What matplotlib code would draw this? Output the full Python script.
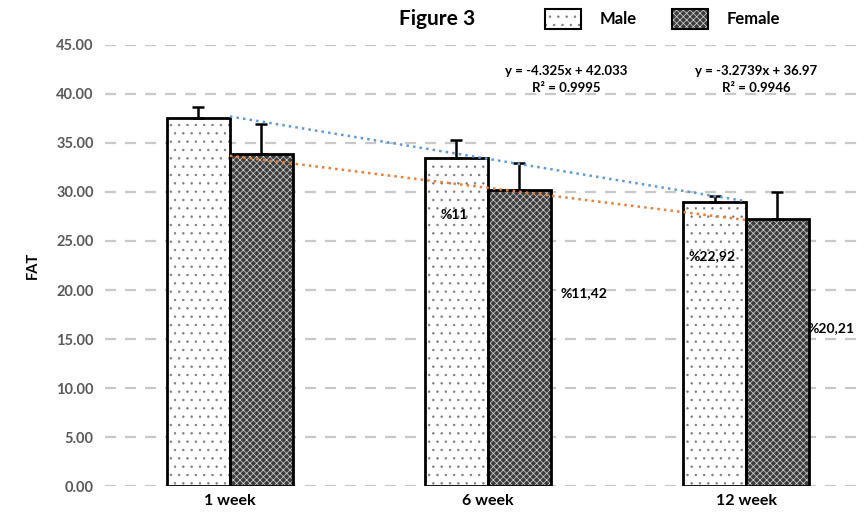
import numpy as np
import matplotlib
matplotlib.use("Agg")
import matplotlib.pyplot as plt
from matplotlib.patches import Rectangle

plt.rcParams['font.family'] = ['Lato', 'DejaVu Sans']
plt.rcParams['hatch.linewidth'] = 0.5

# data
weeks = ['1 week', '6 week', '12 week']
male = [37.6, 33.5, 28.95]
female = [33.85, 30.2, 27.25]
male_err = [1.1, 1.8, 0.65]
female_err = [3.05, 2.8, 2.75]

# trendline equations printed on the chart (x = 1, 2, 3)
male_fit = [-4.325, 42.033]
female_fit = [-3.2739, 36.97]
eq_labels = ['y = -4.325x + 42.033\nR² = 0.9995', 'y = -3.2739x + 36.97\nR² = 0.9946']
pct_labels = ['%11', '%11,42', '%22,92', '%20,21']

fig = plt.figure(figsize=(8.67, 5.23), dpi=100)
ax = fig.add_axes([0.121, 0.0707, 0.871, 0.8433])

x = np.arange(len(weeks))
w = 0.244

male_style = dict(color='white', edgecolor='#7a7a7a', hatch='..')
female_style = dict(color='#3c3c3c', edgecolor='#d8d8d8', hatch='xxxxx')

# male bars: white with dots
ax.bar(x - w/2, male, w, linewidth=0, zorder=2, **male_style)
ax.bar(x - w/2, male, w, fill=False, edgecolor='black', linewidth=2, zorder=3)
# female bars: dark grey with light pattern
ax.bar(x + w/2, female, w, linewidth=0, zorder=2, **female_style)
ax.bar(x + w/2, female, w, fill=False, edgecolor='black', linewidth=2, zorder=3)

ax.errorbar(x - w/2, male, yerr=[np.zeros(3), male_err], fmt='none', ecolor='black',
            elinewidth=1.8, capsize=4, capthick=1.8, zorder=4)
ax.errorbar(x + w/2, female, yerr=[np.zeros(3), female_err], fmt='none', ecolor='black',
            elinewidth=1.8, capsize=4, capthick=1.8, zorder=4)

# trendlines
xt = np.array([1, 3])
ax.plot(xt - 1, male_fit[0] * xt + male_fit[1], ':', color='#5B9BD5', linewidth=1.8, zorder=5)
ax.plot(xt - 1, female_fit[0] * xt + female_fit[1], ':', color='#ED7D31', linewidth=1.8, zorder=5)

ax.set_xlim(-0.4845, 2.442)
ax.set_ylim(0, 45)
ax.set_yticks(np.arange(0, 46, 5))
ax.set_yticklabels([f'{v:.2f}' for v in np.arange(0, 46, 5)], color='#595959',
                   fontsize=10.5, fontweight='bold')
ax.set_xticks(x)
ax.set_xticklabels(weeks, fontsize=11.5, fontweight='bold')
ax.tick_params(length=0, pad=8)
ax.tick_params(axis='x', pad=6)
for s in ax.spines.values():
    s.set_visible(False)
ax.yaxis.grid(True, linestyle=(0, (5, 4)), color='#c8c8c8', linewidth=1.6, zorder=0)
ax.set_axisbelow(True)
ax.set_ylabel('FAT', fontsize=10.5, fontweight='bold', labelpad=12)

# equation labels
ax.text(1.305, 41.5, eq_labels[0], ha='center', va='center', fontsize=9.5, fontweight='bold',
        linespacing=1.5)
ax.text(2.04, 41.5, eq_labels[1], ha='center', va='center', fontsize=9.5, fontweight='bold',
        linespacing=1.5)

# percentage labels
ax.text(0.87, 27.7, pct_labels[0], ha='center', va='center', fontsize=10, fontweight='bold')
ax.text(1.37, 19.7, pct_labels[1], ha='center', va='center', fontsize=10, fontweight='bold')
ax.text(1.868, 23.5, pct_labels[2], ha='center', va='center', fontsize=10, fontweight='bold')
ax.text(2.33, 16.1, pct_labels[3], ha='center', va='center', fontsize=10, fontweight='bold')

# title and legend at the top
fig.text(437/867, 1 - 19/523, 'Figure 3', ha='center', va='center', fontsize=15, fontweight='bold')
for px, tx, lab, st in [(545, 600, 'Male', male_style), (672, 727, 'Female', female_style)]:
    r = Rectangle((px/867, 1 - 29/523), 36/867, 20/523, transform=fig.transFigure,
                  facecolor=st['color'], edgecolor=st['edgecolor'], hatch=st['hatch'], linewidth=0)
    fig.add_artist(r)
    r2 = Rectangle((px/867, 1 - 29/523), 36/867, 20/523, transform=fig.transFigure,
                   fill=False, edgecolor='black', linewidth=1.5)
    fig.add_artist(r2)
    fig.text(tx/867, 1 - 19/523, lab, ha='left', va='center', fontsize=12, fontweight='bold')

fig.savefig('out.png', dpi=100)
